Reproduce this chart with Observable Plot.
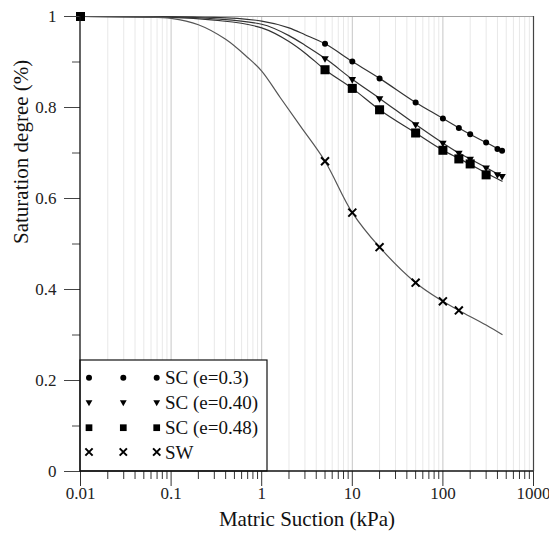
<!DOCTYPE html>
<html><head><meta charset="utf-8">
<script src="https://cdn.jsdelivr.net/npm/d3@7"></script>
<script src="https://cdn.jsdelivr.net/npm/@observablehq/plot@0.6"></script>
<style>
body{margin:0;background:#fff}
#chart{position:absolute;left:0;top:0}
#chart svg, #chart svg text{font-family:"Liberation Serif","Times New Roman",serif !important}
</style>
</head><body><div id="chart"></div>
<script>
// ---- data ----
const seriesNames = ["SC (e=0.3)", "SC (e=0.40)", "SC (e=0.48)", "SW"];

// measured points
const circleX = [5, 10, 20, 50, 100, 150, 200, 300, 400, 450];
const circleY = [0.940, 0.901, 0.864, 0.811, 0.776, 0.755, 0.741, 0.723, 0.709, 0.705];
const triangleX = [5, 10, 20, 50, 100, 150, 200, 300, 400, 450];
const triangleY = [0.908, 0.862, 0.820, 0.763, 0.722, 0.700, 0.687, 0.668, 0.653, 0.649];
const squareX = [0.01, 5, 10, 20, 50, 100, 150, 200, 300];
const squareY = [1, 0.883, 0.842, 0.795, 0.744, 0.706, 0.687, 0.676, 0.652];
const crossX = [5, 10, 20, 50, 100, 150];
const crossY = [0.682, 0.569, 0.493, 0.415, 0.374, 0.354];

// fitted curves
const fitX = [0.01, 0.1, 0.3, 1, 2, 3, 5, 10, 20, 50, 100, 150, 200, 300, 450];
const fit030 = [1, 0.9995, 0.998, 0.990, 0.975, 0.960, 0.940, 0.901, 0.864, 0.811, 0.776, 0.755, 0.741, 0.723, 0.704];
const fit040 = [1, 0.999, 0.995, 0.983, 0.958, 0.937, 0.908, 0.862, 0.820, 0.763, 0.722, 0.700, 0.687, 0.668, 0.648];
const fit048 = [1, 0.998, 0.992, 0.975, 0.945, 0.920, 0.883, 0.842, 0.795, 0.744, 0.706, 0.688, 0.675, 0.656, 0.638];
const fitSWX = [0.01, 0.05, 0.1, 0.2, 0.4, 0.7, 1, 1.6, 2.7, 5, 10, 20, 50, 100, 150, 300, 450];
const fitSW = [1, 0.999, 0.996, 0.982, 0.950, 0.910, 0.880, 0.822, 0.758, 0.682, 0.569, 0.493, 0.415, 0.374, 0.354, 0.322, 0.301];

// ticks
const xTicks = [0.01, 0.1, 1, 10, 100, 1000];
const xTickLabels = ["0.01", "0.1", "1", "10", "100", "1000"];
const yTicks = [0, 0.2, 0.4, 0.6, 0.8, 1];
const yTickLabels = ["0", "0.2", "0.4", "0.6", "0.8", "1"];
const yMinorTicks = [0.1, 0.3, 0.5, 0.7, 0.9];
const xTitle = "Matric Suction (kPa)";
const yTitle = "Saturation degree (%)";

// ---- build ----
const xMinor = [];
for (let e = -2; e < 3; e++) for (let m = 2; m <= 9; m++) xMinor.push(+(m * Math.pow(10, e)).toPrecision(3));

const rows = (xs, ys) => xs.map((x, i) => ({x, y: ys[i]}));

const triDown = {
  draw(ctx, size) {
    const s = Math.sqrt(size * 4 / Math.sqrt(3));
    const h = s * Math.sqrt(3) / 2;
    ctx.moveTo(-s / 2, -h / 3);
    ctx.lineTo(s / 2, -h / 3);
    ctx.lineTo(0, 2 * h / 3);
    ctx.closePath();
  }
};

const xLab = new Map(xTicks.map((d, i) => [d, xTickLabels[i]]));
const yLab = new Map(yTicks.map((d, i) => [d, yTickLabels[i]]));
const font = '"Liberation Serif", "Times New Roman", serif';

const chart = Plot.plot({
  width: 549, height: 537,
  marginLeft: 80, marginRight: 16, marginTop: 16, marginBottom: 66,
  style: {fontFamily: font, fontSize: "17px", background: "white", color: "#000"},
  x: {type: "log", domain: [0.01, 1000]},
  y: {domain: [0, 1]},
  marks: [
    Plot.ruleX(xMinor, {stroke: "#e8e8e8", strokeWidth: 1}),
    Plot.ruleX(xTicks.slice(1, -1), {stroke: "#c6c6c6", strokeWidth: 1}),
    Plot.ruleY([1], {stroke: "#a0a0a0", strokeWidth: 1.2}),
    Plot.ruleX([1000], {stroke: "#444", strokeWidth: 1.2}),
    Plot.line(rows(fitX, fit030), {x: "x", y: "y", stroke: "#333", strokeWidth: 1.2, curve: "monotone-x"}),
    Plot.line(rows(fitX, fit040), {x: "x", y: "y", stroke: "#333", strokeWidth: 1.2, curve: "monotone-x"}),
    Plot.line(rows(fitX, fit048), {x: "x", y: "y", stroke: "#333", strokeWidth: 1.2, curve: "monotone-x"}),
    Plot.line(rows(fitSWX, fitSW), {x: "x", y: "y", stroke: "#555", strokeWidth: 1.2, curve: "catmull-rom"}),
    Plot.dot(rows(circleX, circleY), {x: "x", y: "y", r: 3, fill: "black", symbol: "circle"}),
    Plot.dot(rows(triangleX, triangleY), {x: "x", y: "y", r: 2.8, fill: "black", symbol: triDown}),
    Plot.dot(rows(squareX, squareY), {x: "x", y: "y", r: 5.1, fill: "black", symbol: "square"}),
    Plot.dot(rows(crossX, crossY), {x: "x", y: "y", r: 3.7, stroke: "black", strokeWidth: 2, symbol: "times"}),
    Plot.axisX({ticks: xTicks, tickSize: 15, tickPadding: 0, tickFormat: d => xLab.get(d), label: null, stroke: "#333", fill: "#222", fontSize: 17}),
    Plot.axisX({ticks: xMinor, tickSize: 8, tickFormat: () => "", label: null, stroke: "#333"}),
    Plot.axisY({ticks: yTicks, tickSize: 16, tickPadding: 8, tickFormat: d => yLab.get(d), label: null, stroke: "#444", fill: "#222", fontSize: 17}),
    Plot.axisY({ticks: yMinorTicks, tickSize: 8, tickFormat: () => "", label: null, stroke: "#444"}),
    Plot.text([xTitle], {frameAnchor: "bottom", dy: 54, fontSize: 21, fill: "#111"}),
    Plot.text([yTitle], {frameAnchor: "left", dx: -59, rotate: -90, fontSize: 21, fill: "#111"})
  ]
});

// legend box (layout inside the frame, bottom-left)
const svg = d3.select(chart);
const lg = svg.append("g").attr("text-anchor", "start");
lg.append("rect").attr("x", 80).attr("y", 360).attr("width", 187).attr("height", 111)
  .attr("fill", "white").attr("stroke", "#111").attr("stroke-width", 1.2);
const legendSyms = [
  {sym: d3.symbolCircle, size: Math.PI * 9, fill: true},
  {sym: triDown, size: 20, fill: true},
  {sym: d3.symbolSquare, size: 45, fill: true},
  {sym: d3.symbolTimes, size: 36, fill: false}
];
const rowY = [377.7, 402.3, 427.7, 452];
const colX = [89, 123.3, 156.7];
seriesNames.forEach((name, i) => {
  const s = legendSyms[i];
  const p = d3.symbol(s.sym, s.size)();
  colX.forEach(cx => {
    lg.append("path").attr("d", p).attr("transform", `translate(${cx},${rowY[i]})`)
      .attr("fill", s.fill ? "black" : "none").attr("stroke", s.fill ? "none" : "black")
      .attr("stroke-width", s.fill ? 0 : 2);
  });
  lg.append("text").attr("x", 165).attr("y", rowY[i]).attr("dy", "0.35em")
    .attr("text-anchor", "start")
    .style("font-family", font).attr("font-size", 19).attr("fill", "#111").text(name);
});

// axis lines drawn over the legend box, through the x/y scales
const sx = chart.scale("x"), sy = chart.scale("y");
const x0 = sx.apply(0.01), x1 = sx.apply(1000), y0 = sy.apply(0), y1 = sy.apply(1);
svg.append("line").attr("x1", x0).attr("x2", x0).attr("y1", y1).attr("y2", y0 + 0.5)
  .attr("stroke", "#111").attr("stroke-width", 1.3);
svg.append("line").attr("x1", x0).attr("x2", x1).attr("y1", y0).attr("y2", y0)
  .attr("stroke", "#111").attr("stroke-width", 1.3);
document.getElementById("chart").appendChild(chart);
</script>
</body></html>
